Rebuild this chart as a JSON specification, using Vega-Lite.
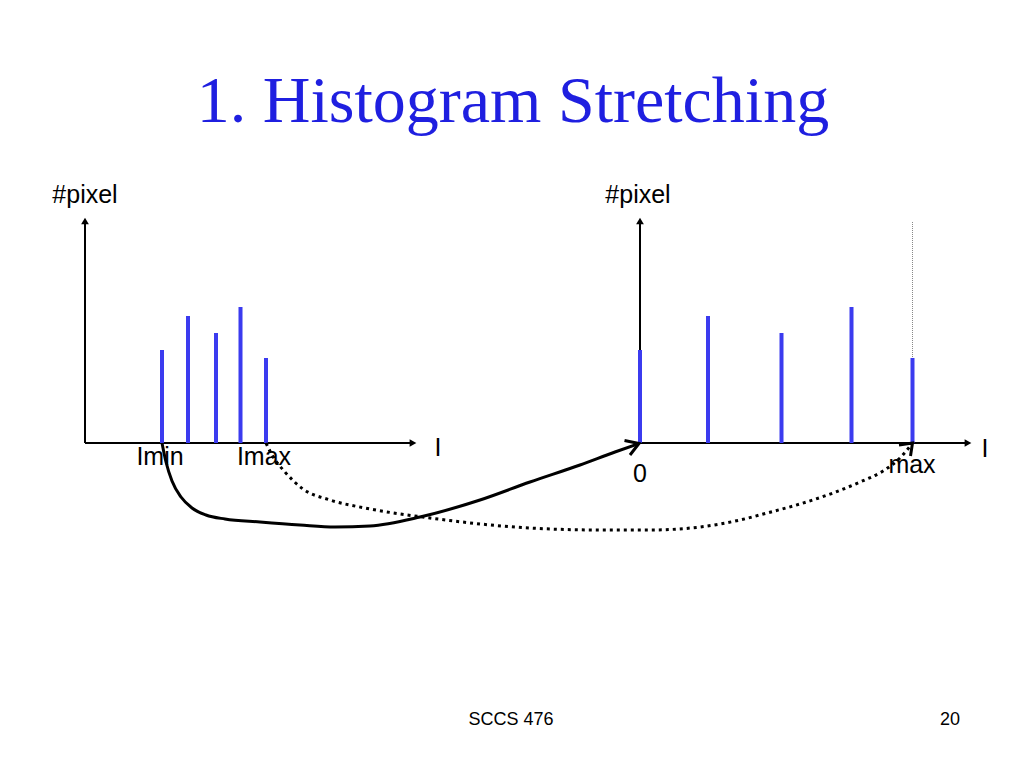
{
  "$schema": "https://vega.github.io/schema/vega-lite/v6.json",
  "width": 1024,
  "height": 768,
  "autosize": {"type": "fit", "contains": "padding"},
  "padding": 0,
  "background": "white",
  "config": {"view": {"stroke": null}},
  "datasets": {
    "axes": [
      {"x": 85, "y": 443, "x2": 412, "y2": 443},
      {"x": 85, "y": 443, "x2": 85, "y2": 222},
      {"x": 640, "y": 443, "x2": 967, "y2": 443},
      {"x": 640, "y": 443, "x2": 640, "y2": 222}
    ],
    "heads": [
      {"x": 413, "y": 443, "shape": "triangle-right"},
      {"x": 85, "y": 221, "shape": "triangle-up"},
      {"x": 968, "y": 443, "shape": "triangle-right"},
      {"x": 640, "y": 221, "shape": "triangle-up"}
    ],
    "guide": [{"x": 912.5, "y": 222, "y2": 358}],
    "bars": [
      {"x": 162, "y": 443, "top": 350},
      {"x": 188, "y": 443, "top": 316},
      {"x": 216, "y": 443, "top": 333},
      {"x": 240.5, "y": 443, "top": 307},
      {"x": 266, "y": 443, "top": 358},
      {"x": 640, "y": 443, "top": 350},
      {"x": 708, "y": 443, "top": 316},
      {"x": 781.5, "y": 443, "top": 333},
      {"x": 851.5, "y": 443, "top": 307},
      {"x": 912.5, "y": 443, "top": 358}
    ],
    "solid": [
      {"i": 0, "x": 162, "y": 443},
      {"i": 1, "x": 166, "y": 462},
      {"i": 2, "x": 172, "y": 481},
      {"i": 3, "x": 181, "y": 497},
      {"i": 4, "x": 192, "y": 508},
      {"i": 5, "x": 206, "y": 515},
      {"i": 6, "x": 225, "y": 519},
      {"i": 7, "x": 260, "y": 522},
      {"i": 8, "x": 300, "y": 525},
      {"i": 9, "x": 335, "y": 527},
      {"i": 10, "x": 370, "y": 526},
      {"i": 11, "x": 420, "y": 517},
      {"i": 12, "x": 480, "y": 500},
      {"i": 13, "x": 530, "y": 482},
      {"i": 14, "x": 580, "y": 465},
      {"i": 15, "x": 615, "y": 452},
      {"i": 16, "x": 638, "y": 444}
    ],
    "dotted": [
      {"i": 0, "x": 266, "y": 443},
      {"i": 1, "x": 272, "y": 455},
      {"i": 2, "x": 285, "y": 472},
      {"i": 3, "x": 303, "y": 489},
      {"i": 4, "x": 330, "y": 500},
      {"i": 5, "x": 365, "y": 508},
      {"i": 6, "x": 430, "y": 518},
      {"i": 7, "x": 530, "y": 528},
      {"i": 8, "x": 600, "y": 530},
      {"i": 9, "x": 650, "y": 530},
      {"i": 10, "x": 700, "y": 527},
      {"i": 11, "x": 740, "y": 520},
      {"i": 12, "x": 767, "y": 513},
      {"i": 13, "x": 800, "y": 504},
      {"i": 14, "x": 833, "y": 493},
      {"i": 15, "x": 860, "y": 482},
      {"i": 16, "x": 883, "y": 471},
      {"i": 17, "x": 900, "y": 458},
      {"i": 18, "x": 911, "y": 445}
    ],
    "chevrons": [
      {"id": "a", "i": 0, "x": 624.5, "y": 440.5},
      {"id": "a", "i": 1, "x": 639, "y": 443.5},
      {"id": "a", "i": 2, "x": 630, "y": 455},
      {"id": "b", "i": 0, "x": 899, "y": 445},
      {"id": "b", "i": 1, "x": 912.5, "y": 443},
      {"id": "b", "i": 2, "x": 910.5, "y": 456}
    ],
    "labels": [
      {"x": 85, "y": 203, "text": "#pixel"},
      {"x": 638, "y": 203, "text": "#pixel"},
      {"x": 438, "y": 456, "text": "I"},
      {"x": 985, "y": 457, "text": "I"},
      {"x": 160, "y": 465, "text": "Imin"},
      {"x": 264, "y": 465, "text": "Imax"},
      {"x": 640, "y": 482, "text": "0"},
      {"x": 912, "y": 473, "text": "max"}
    ],
    "footer": [
      {"x": 511, "y": 725, "text": "SCCS 476"},
      {"x": 950, "y": 725, "text": "20"}
    ],
    "title": [{"x": 513, "y": 122, "text": "1. Histogram Stretching"}]
  },
  "encoding": {
    "x": {"field": "x", "type": "quantitative", "scale": {"domain": [0, 1024], "nice": false, "zero": false}, "axis": null},
    "y": {"field": "y", "type": "quantitative", "scale": {"domain": [0, 768], "reverse": true, "nice": false, "zero": false}, "axis": null}
  },
  "layer": [
    {
      "data": {"name": "axes"},
      "mark": {"type": "rule", "color": "black", "strokeWidth": 2},
      "encoding": {"x2": {"field": "x2"}, "y2": {"field": "y2"}}
    },
    {
      "data": {"name": "guide"},
      "mark": {"type": "rule", "color": "#888888", "strokeWidth": 1, "strokeDash": [1, 1]},
      "encoding": {"y2": {"field": "y2"}}
    },
    {
      "data": {"name": "bars"},
      "mark": {"type": "rule", "color": "#3b3bef", "strokeWidth": 4},
      "encoding": {"y2": {"field": "top"}}
    },
    {
      "data": {"name": "heads"},
      "mark": {"type": "point", "filled": true, "color": "black", "opacity": 1, "size": 60},
      "encoding": {"shape": {"field": "shape", "type": "nominal", "scale": null}}
    },
    {
      "data": {"name": "solid"},
      "mark": {"type": "line", "color": "black", "strokeWidth": 3, "interpolate": "monotone"},
      "encoding": {"order": {"field": "i", "type": "quantitative"}}
    },
    {
      "data": {"name": "dotted"},
      "mark": {"type": "line", "color": "black", "strokeWidth": 3, "interpolate": "monotone", "strokeDash": [3, 4], "strokeCap": "butt"},
      "encoding": {"order": {"field": "i", "type": "quantitative"}}
    },
    {
      "data": {"name": "chevrons"},
      "mark": {"type": "line", "color": "black", "strokeWidth": 3, "strokeJoin": "miter"},
      "encoding": {"detail": {"field": "id", "type": "nominal"}, "order": {"field": "i", "type": "quantitative"}}
    },
    {
      "data": {"name": "labels"},
      "mark": {"type": "text", "font": "Liberation Sans", "fontSize": 25, "color": "black", "align": "center", "baseline": "alphabetic"},
      "encoding": {"text": {"field": "text"}}
    },
    {
      "data": {"name": "footer"},
      "mark": {"type": "text", "font": "Liberation Sans", "fontSize": 18, "color": "black", "align": "center", "baseline": "alphabetic"},
      "encoding": {"text": {"field": "text"}}
    },
    {
      "data": {"name": "title"},
      "mark": {"type": "text", "font": "Liberation Serif", "fontSize": 66, "color": "#1f1fe0", "align": "center", "baseline": "alphabetic"},
      "encoding": {"text": {"field": "text"}}
    }
  ]
}
